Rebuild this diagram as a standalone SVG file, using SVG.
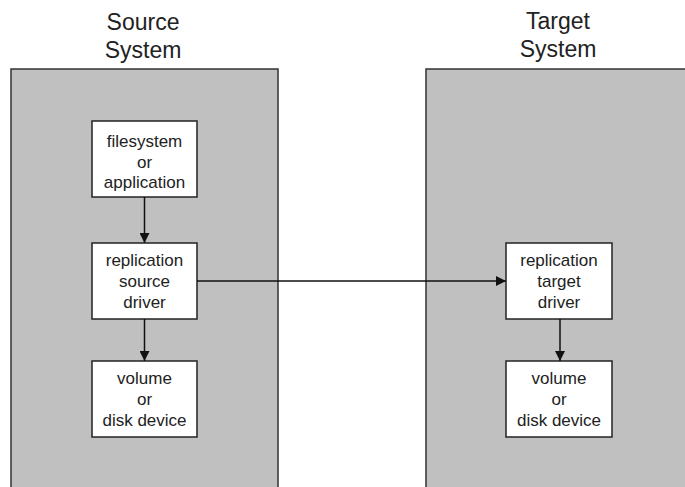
<svg xmlns="http://www.w3.org/2000/svg" width="685" height="487" viewBox="0 0 685 487">
  <style>
    .panel { fill: #c0c0c0; stroke: #333; stroke-width: 1.5; }
    .node rect { fill: #fff; stroke: #222; stroke-width: 1.5; }
    .title { font-family: "Liberation Sans", Arial, sans-serif; font-size: 23px; fill: #222; text-anchor: middle; }
    .label { font-family: "Liberation Sans", Arial, sans-serif; font-size: 17px; fill: #222; text-anchor: middle; }
    .edge { stroke: #111; stroke-width: 1.5; fill: none; marker-end: url(#arrow); }
  </style>
  <defs>
    <marker id="arrow" viewBox="0 0 10 10" refX="10" refY="5" markerWidth="10" markerHeight="10" markerUnits="userSpaceOnUse" orient="auto">
      <path d="M0,0 L10,5 L0,10 z" fill="#111"/>
    </marker>
  </defs>
  <rect width="685" height="487" fill="#fff"/>

  <!-- system panels -->
  <g id="source-system">
    <rect class="panel" x="11" y="69" width="267" height="430"/>
    <text class="title" x="143" y="30">Source</text>
    <text class="title" x="143" y="57.5">System</text>
  </g>
  <g id="target-system">
    <rect class="panel" x="426" y="69" width="270" height="430"/>
    <text class="title" x="558" y="29">Target</text>
    <text class="title" x="558" y="57">System</text>
  </g>

  <!-- source side nodes -->
  <g id="filesystem" class="node">
    <rect x="92" y="121" width="105" height="76"/>
    <text class="label" x="144.5" y="147">filesystem</text>
    <text class="label" x="144.5" y="167.5">or</text>
    <text class="label" x="144.5" y="188">application</text>
  </g>
  <g id="source-driver" class="node">
    <rect x="92" y="243" width="105" height="76"/>
    <text class="label" x="144.5" y="265.5">replication</text>
    <text class="label" x="144.5" y="287">source</text>
    <text class="label" x="144.5" y="308">driver</text>
  </g>
  <g id="source-volume" class="node">
    <rect x="92" y="361" width="105" height="76"/>
    <text class="label" x="144.5" y="383.5">volume</text>
    <text class="label" x="144.5" y="404.5">or</text>
    <text class="label" x="144.5" y="426">disk device</text>
  </g>

  <!-- target side nodes -->
  <g id="target-driver" class="node">
    <rect x="506" y="243" width="106" height="76"/>
    <text class="label" x="559" y="265.5">replication</text>
    <text class="label" x="559" y="287">target</text>
    <text class="label" x="559" y="308">driver</text>
  </g>
  <g id="target-volume" class="node">
    <rect x="506" y="361" width="106" height="76"/>
    <text class="label" x="559" y="383.5">volume</text>
    <text class="label" x="559" y="404.5">or</text>
    <text class="label" x="559" y="426">disk device</text>
  </g>

  <!-- connectors -->
  <g id="connectors">
    <line class="edge" x1="144.5" y1="197" x2="144.5" y2="243"/>
    <line class="edge" x1="144.5" y1="319" x2="144.5" y2="361"/>
    <line class="edge" x1="197" y1="281" x2="506" y2="281"/>
    <line class="edge" x1="560" y1="319" x2="560" y2="361"/>
  </g>
</svg>
